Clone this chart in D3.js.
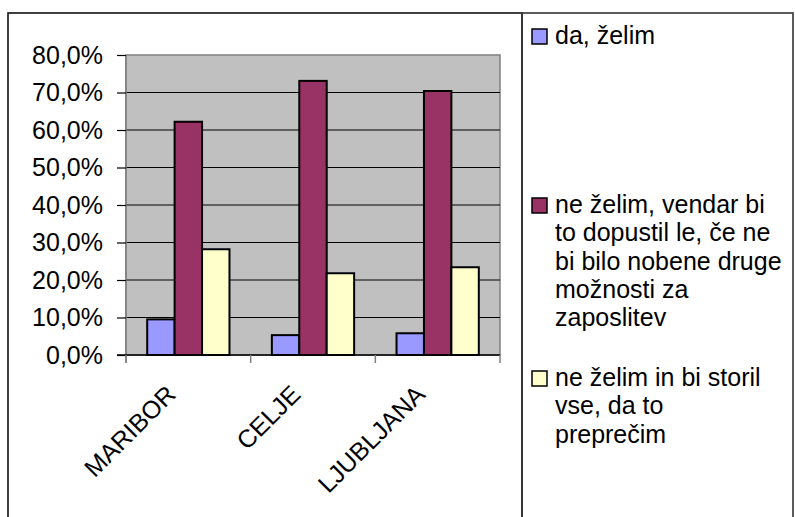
<!DOCTYPE html>
<html lang="sl">
<head>
    <meta charset="UTF-8">
    <title>zelim-bar</title>
    <script src="https://cdn.jsdelivr.net/npm/d3@7"></script>
    <style>
        body { margin: 0; background: #fff; }
        text { font-family: "Liberation Sans", Arial, sans-serif; fill: #000; }
    </style>
</head>
<body>
    <svg class="chart"></svg>
</body>
<script>
    // podatki
    var cities = ['MARIBOR', 'CELJE', 'LJUBLJANA'];
    var seriesNames = ['da, želim', 'ne želim, vendar bi to dopustil le, če ne bi bilo nobene druge možnosti za zaposlitev', 'ne želim in bi storil vse, da to preprečim'];
    var daZelim = [0.095, 0.053, 0.058];
    var neZelimVendar = [0.622, 0.731, 0.704];
    var neZelimStoril = [0.282, 0.218, 0.234];
    var yTicks = [0, 0.1, 0.2, 0.3, 0.4, 0.5, 0.6, 0.7, 0.8];
    // legenda - vrstice kot v sliki
    var legendLines = [
        ['da, želim'],
        ['ne želim, vendar bi', 'to dopustil le, če ne', 'bi bilo nobene druge', 'možnosti za', 'zaposlitev'],
        ['ne želim in bi storil', 'vse, da to', 'preprečim']
    ];

    var colors = ['#9999ff', '#993366', '#ffffcc'];
    var values = [daZelim, neZelimVendar, neZelimStoril];

    var width = 795, height = 517;
    var fontSize = 25;

    var svg = d3.select('.chart')
        .attr('width', width)
        .attr('height', height);

    svg.append('rect').attr('width', width).attr('height', height).attr('fill', '#fff');

    // okvirji
    svg.append('rect')
        .attr('x', 8).attr('y', 13).attr('width', 514).attr('height', 540)
        .attr('fill', 'none').attr('stroke', '#111').attr('stroke-width', 1.6);
    svg.append('rect')
        .attr('x', 522).attr('y', 13).attr('width', 271).attr('height', 540)
        .attr('fill', 'none').attr('stroke', '#333').attr('stroke-width', 1.6);

    // lestvice
    var x = d3.scaleBand()
        .domain(cities)
        .range([126, 500]);

    var inner = d3.scaleBand()
        .domain([0, 1, 2])
        .range([x.bandwidth() * 0.17, x.bandwidth() * 0.83]);

    var y = d3.scaleLinear()
        .domain([0, 0.8])
        .range([355, 55]);

    var locale = d3.formatLocale({decimal: ',', thousands: '.', grouping: [3], currency: ['', ' €']});
    var pct = locale.format('.1%');

    // ozadje risalne ploskve
    svg.append('rect')
        .attr('x', 126).attr('y', y(0.8))
        .attr('width', 374).attr('height', y(0) - y(0.8))
        .attr('fill', '#c0c0c0')
        .attr('stroke', '#808080').attr('stroke-width', 1.5);

    // mreza
    svg.append('g')
        .selectAll('line')
        .data(yTicks.filter(function (d) { return d > 0 && d < 0.8; }))
        .enter()
        .append('line')
        .attr('x1', 126).attr('x2', 500)
        .attr('y1', function (d) { return y(d); })
        .attr('y2', function (d) { return y(d); })
        .attr('stroke', '#000').attr('stroke-width', 1.2);

    // stolpci
    var groups = svg.selectAll('g.city')
        .data(cities)
        .enter()
        .append('g')
        .attr('class', 'city')
        .attr('transform', function (d) { return 'translate(' + x(d) + ',0)'; });

    groups.selectAll('rect')
        .data(function (d, i) {
            return values.map(function (s, j) { return {s: j, v: s[i]}; });
        })
        .enter()
        .append('rect')
        .attr('x', function (d) { return inner(d.s); })
        .attr('y', function (d) { return y(d.v); })
        .attr('width', inner.bandwidth())
        .attr('height', function (d) { return y(0) - y(d.v); })
        .attr('fill', function (d) { return colors[d.s]; })
        .attr('stroke', '#000')
        .attr('stroke-width', 2);

    // os y
    var yAxis = svg.append('g')
        .attr('transform', 'translate(126,0)')
        .call(d3.axisLeft(y).tickValues(yTicks).tickFormat(pct).tickSize(9).tickPadding(14));
    yAxis.select('.domain').attr('stroke', '#808080').attr('stroke-width', 1.5)
        .attr('d', 'M0,' + y(0.8) + 'V' + (y(0) + 8));
    yAxis.selectAll('.tick line').attr('stroke', '#000').attr('stroke-width', 1.2);
    yAxis.selectAll('.tick text')
        .attr('font-size', fontSize)
        .attr('font-family', '"Liberation Sans", Arial, sans-serif')
        .attr('fill', '#000');

    // os x
    svg.append('line')
        .attr('x1', 117).attr('x2', 500)
        .attr('y1', y(0)).attr('y2', y(0))
        .attr('stroke', '#000').attr('stroke-width', 1.5);

    svg.append('g')
        .selectAll('line')
        .data(cities.concat(['end']))
        .enter()
        .append('line')
        .attr('x1', function (d, i) { return 126 + i * x.bandwidth(); })
        .attr('x2', function (d, i) { return 126 + i * x.bandwidth(); })
        .attr('y1', y(0)).attr('y2', y(0) + 8)
        .attr('stroke', '#808080').attr('stroke-width', 1.5);

    svg.append('g')
        .selectAll('text')
        .data(cities)
        .enter()
        .append('text')
        .attr('text-anchor', 'end')
        .attr('font-size', fontSize)
        .attr('transform', function (d) {
            return 'translate(' + (x(d) + x.bandwidth() / 2 - 11) + ',396) rotate(-45)';
        })
        .text(function (d) { return d; });

    // legenda
    var legendY = [44, 213, 386];
    var legend = svg.append('g');
    var items = legend.selectAll('g')
        .data(legendLines)
        .enter()
        .append('g')
        .attr('transform', function (d, i) { return 'translate(0,' + legendY[i] + ')'; });

    items.append('rect')
        .attr('x', 532).attr('y', -15)
        .attr('width', 15).attr('height', 15)
        .attr('fill', function (d, i) { return colors[i]; })
        .attr('stroke', '#000').attr('stroke-width', 1.5);

    items.append('text')
        .attr('x', 555)
        .attr('font-size', fontSize)
        .selectAll('tspan')
        .data(function (d) { return d; })
        .enter()
        .append('tspan')
        .attr('x', 555)
        .attr('dy', function (d, i) { return i === 0 ? 0 : 28.3; })
        .text(function (d) { return d; });
</script>
</html>
